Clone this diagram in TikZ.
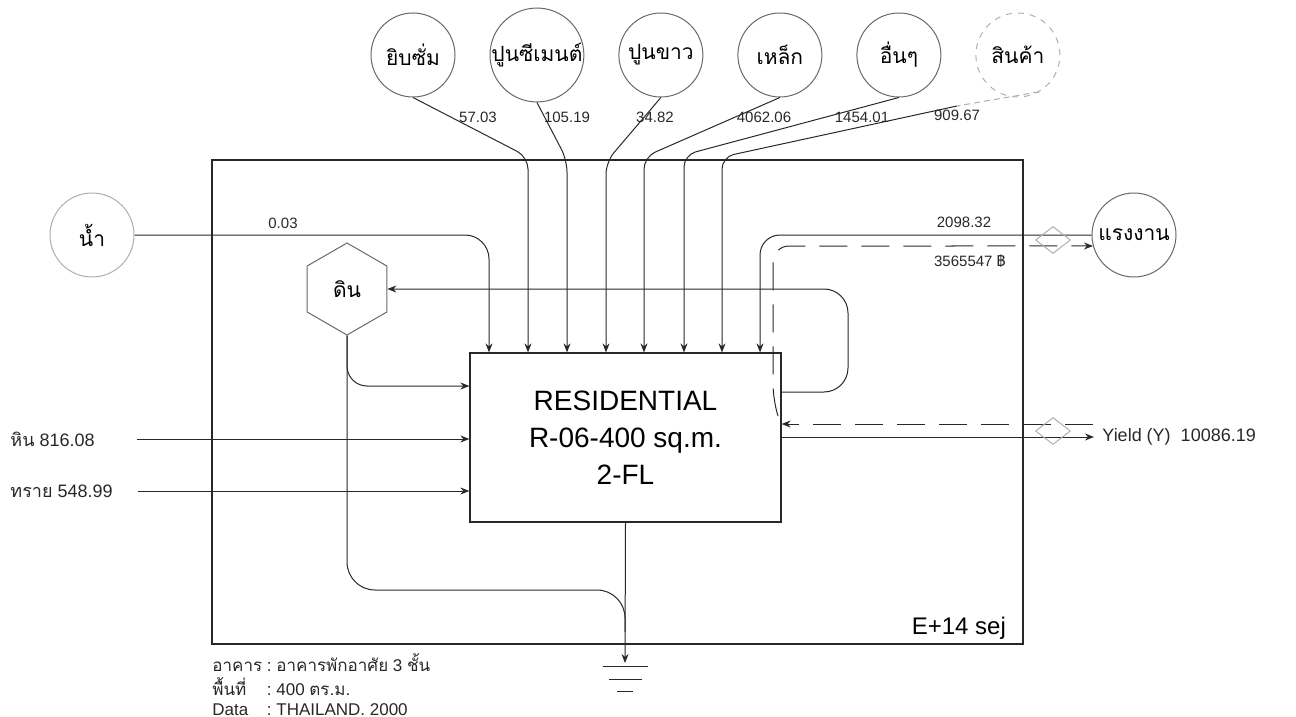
\documentclass[tikz,border=0pt]{standalone}
\usepackage{fontspec}
\setmainfont{Liberation Sans}
\newfontfamily\thaifont[Script=Thai]{Loma}
\usetikzlibrary{shapes.geometric, arrows.meta, positioning, calc}
\definecolor{mydark}{RGB}{40,40,40}
\definecolor{mygray}{RGB}{105,105,105}
\definecolor{mylight}{RGB}{175,175,175}
\tikzset{
  source/.style={circle, draw=mygray, minimum size=42pt, inner sep=0pt,
    font=\thaifont\fontsize{10.5}{12}\selectfont, line width=0.5pt},
  tank/.style={regular polygon, regular polygon sides=6, shape border rotate=30,
    draw=mygray, minimum size=46pt, inner sep=0pt,
    font=\thaifont\fontsize{10.5}{12}\selectfont, line width=0.5pt},
  process/.style={rectangle, draw=mydark, minimum width=155.5pt, minimum height=84.5pt,
    align=center, font=\fontsize{14}{18.5}\selectfont, line width=0.6pt},
  frame/.style={rectangle, draw=mydark, minimum width=405.5pt, minimum height=242pt,
    inner sep=0pt, line width=0.6pt},
  sale/.style={diamond, draw=mylight, minimum width=17.5pt, minimum height=13.5pt,
    inner sep=0pt, line width=0.5pt},
  flow/.style={-{Stealth[length=4.5pt,width=3.5pt]}, color=mydark, line width=0.5pt, rounded corners=6pt},
  line/.style={color=mydark, line width=0.5pt, rounded corners=6pt},
  money/.style={flow, dash pattern=on 14pt off 7pt},
  val/.style={font=\fontsize{7.5}{9}\selectfont, color=mydark, inner sep=1pt},
  lbl/.style={font=\fontsize{9}{11}\selectfont, color=mydark, inner sep=0pt}
}

\begin{document}
\begin{tikzpicture}[x=0.5pt, y=-0.5pt]
  \useasboundingbox (0,0) rectangle (1296,717);

  % System boundary and building
  \node[frame] (sys) at (617.5,402) {};
  \node[process] (res) at (625.5,437.5) {RESIDENTIAL\\R-06-400 sq.m.\\2-FL};
  \node[anchor=east, font=\fontsize{12}{14}\selectfont] (unit) at (1013,628) {E+14 sej};

  % Sources on top
  \node[source] (gyp) at (413,55) {ยิบซั่ม};
  \node[source, right=17pt of gyp] (cem) {ปูนซีเมนต์};
  \node[source, right=17pt of cem] (lime) {ปูนขาว};
  \node[source, right=17pt of lime] (steel) {เหล็ก};
  \node[source, right=17pt of steel] (other) {อื่นๆ};
  \node[source, draw=mylight, dashed, right=17pt of other] (goods) {สินค้า};

  % Sources at the sides
  \node[source, draw=mylight] (water) at (92,235) {น้ำ};
  \node[source] (labor) at (1134,235) {แรงงาน};
  \node[tank] (soil) at (347,289) {ดิน};

  % Inputs from the left
  \node[lbl, anchor=west] (rock) at (10,439) {{\thaifont หิน}\ 816.08};
  \node[lbl, anchor=west] (sand) at (10,491) {{\thaifont ทราย}\ 548.99};
  \coordinate (rk) at (137,439);
  \coordinate (sd) at (138,491);
  \draw[flow] (rk) -- (res.west |- rk);
  \draw[flow] (sd) -- (res.west |- sd);

  % Top inputs
  \draw[flow, rounded corners=12pt] (water.east) -- (489,0 |- water.east) -- (489,0 |- res.north);
  \draw[flow] (gyp.south) -- (528,157) -- (528,0 |- res.north);
  \draw[flow] (cem.south) -- (567,160) -- (567,0 |- res.north);
  \draw[flow] (lime.south) -- (606,162) -- (606,0 |- res.north);
  \draw[flow] (steel.south) -- (644,157) -- (644,0 |- res.north);
  \draw[flow] (other.south) -- (684,155) -- (684,0 |- res.north);
  \coordinate (gd) at (957,106);
  \draw[mylight, densely dashed, line width=0.5pt] (goods.-60) -- (gd);
  \draw[flow] (gd) -- (722,157) -- (722,0 |- res.north);
  \draw[flow, rounded corners=10pt] (labor.west) -- (760,0 |- labor.west) -- (760,0 |- res.north);

  % Flow values
  \node[val] (v1) at (478,117) {57.03};
  \node[val] (v2) at (567,117) {105.19};
  \node[val] (v3) at (655,117) {34.82};
  \node[val] (v4) at (764,117) {4062.06};
  \node[val] (v5) at (862,117) {1454.01};
  \node[val] (v6) at (957,115) {909.67};
  \node[val] (v7) at (283,223) {0.03};
  \node[val] (v8) at (964,222) {2098.32};
  \node[val] (v9) at (970,261) {3565547 {\thaifont ฿}};

  % Yield and money
  \node[lbl, anchor=west] (yield) at (1102,437) {Yield (Y)\ \ 10086.19};
  \coordinate (ycash) at (1093,424);
  \coordinate (cin) at (778,416);
  \draw[flow] (res.east |- yield) -- ([xshift=-4pt]yield.west);
  \draw[money] (ycash) -- (res.east |- ycash);
  \draw[money, rounded corners=8pt] (cin) -- (773,400) -- (773,246) -- (labor.195);
  \node[sale] (d1) at (1053,240) {};
  \node[sale] (d2) at (1053,431) {};

  % Feedback to soil and soil use
  \draw[flow, rounded corners=12pt] (res.east |- 0,392) -- (848,392) -- (848,289) -- (soil.east);
  \draw[flow, rounded corners=10pt] (soil.south) -- (347,386) -- (res.west |- 0,386);
  \draw[line, rounded corners=14pt] (soil.south) -- (347,590) -- (625,590) -- (625,632);

  % Heat sink
  \coordinate (gnd) at (625,663);
  \draw[flow] (res.south) -- (gnd);
  \draw[mydark, line width=0.5pt] (gnd) ++(-22,3) -- ++(45,0)
    (gnd) ++(-16,16) -- ++(33,0) (gnd) ++(-8,28) -- ++(16,0);

  % Notes
  \node[anchor=north west, inner sep=0pt, font=\fontsize{8.5}{10}\selectfont, color=mydark] (info) at (212,653)
    {\begin{tabular}{@{}l@{\ :\ }l@{}}
      {\thaifont อาคาร} & {\thaifont อาคารพักอาศัย} 3 {\thaifont ชั้น}\\
      {\thaifont พื้นที่} & 400 {\thaifont ตร.ม.}\\
      Data & THAILAND. 2000
    \end{tabular}};
\end{tikzpicture}
\end{document}
